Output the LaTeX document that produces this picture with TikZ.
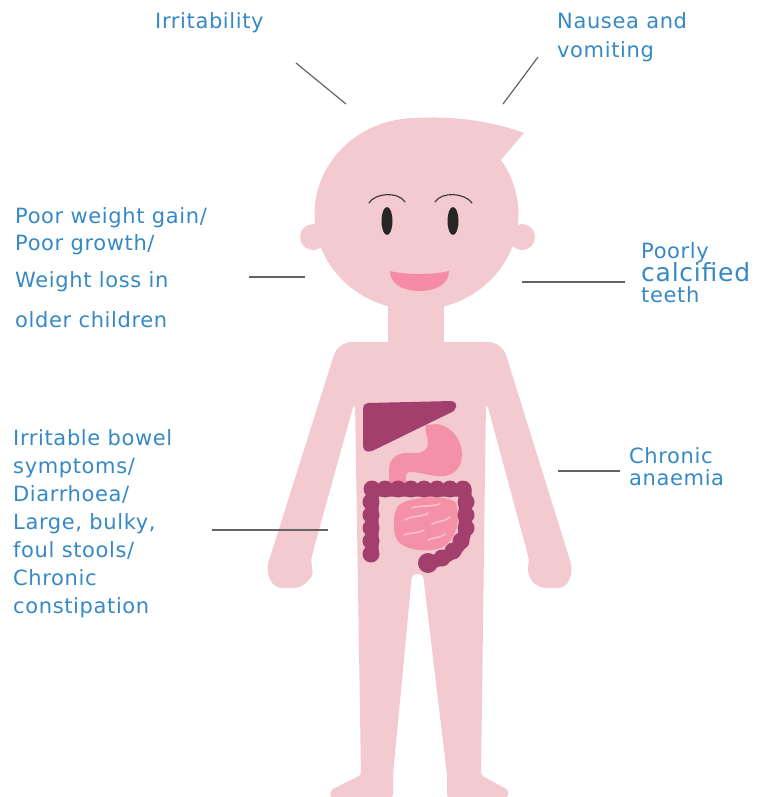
\documentclass[tikz,border=0pt]{standalone}
\usepackage{fontspec}
\setmainfont{DejaVu Sans}[LetterSpace=3]
\usepackage{xcolor}
\usepackage{tikz}
\usetikzlibrary{positioning}

\definecolor{skinpink}{RGB}{243,202,207}
\definecolor{organplum}{RGB}{163,63,108}
\definecolor{gutpink}{RGB}{245,145,166}
\definecolor{gutlight}{RGB}{250,192,204}
\definecolor{mouthpink}{RGB}{245,140,163}
\definecolor{symblue}{RGB}{54,137,196}
\definecolor{leadgray}{RGB}{100,100,100}

\newcommand{\symsize}{\fontsize{21}{28}\selectfont}

\begin{document}
\begin{tikzpicture}[x=1pt, y=-1pt,
    skin/.style  ={fill=skinpink},
    organ/.style ={fill=organplum},
    gut/.style   ={fill=gutpink},
    fold/.style  ={draw=gutlight, line width=1.6pt, line cap=round},
    colon/.style ={draw=organplum, line width=13pt, line cap=round, line join=round},
    brow/.style  ={draw=black!80, line width=1.1pt, line cap=round},
    lead/.style  ={draw=leadgray, line width=1.2pt},
    sym/.style   ={text=symblue, font=\symsize, align=left, inner sep=0pt, anchor=base west}
  ]
  \useasboundingbox (0,0) rectangle (757,797);

  % --- body: torso, arms and legs ---
  \fill[skin, rounded corners=14pt]
    (420,342) -- (502,342)
    [rounded corners=8pt] -- (573,570) -- (566,588) -- (538,588) -- (527,575)
    [rounded corners=3pt] -- (529,560) -- (526,548)
    [rounded corners=10pt] -- (486,400)
    [rounded corners=2pt] -- (481,775) -- (508,790) -- (508,797) -- (447,797) -- (447,775)
    [rounded corners=4pt] -- (423,574) -- (412,574)
    [rounded corners=2pt] -- (393,775) -- (393,797) -- (330,797) -- (331,790) -- (361,775)
    [rounded corners=10pt] -- (355,400) -- (314,548)
    [rounded corners=3pt] -- (311,560) -- (313,575)
    [rounded corners=8pt] -- (302,588) -- (274,588) -- (266,570)
    [rounded corners=14pt] -- (338,342) -- cycle;
  \fill[skin] (388,290) rectangle (444,350); % neck

  % --- head ---
  \fill[skin] (313,237) circle[radius=13];
  \fill[skin] (522,237) circle[radius=13];
  \fill[skin] (416.5,214) ellipse[x radius=102, y radius=96];
  \fill[skin] (405,119) .. controls (450,114) and (495,122) .. (524,133) -- (499,162) -- cycle;

  \draw[brow] (369,203) .. controls (375,193) and (398,191) .. (405,202);
  \draw[brow] (435,202) .. controls (442,191) and (465,193) .. (472,203);
  \fill[black!85] (387,221) ellipse[x radius=5.5, y radius=14];
  \fill[black!85] (453,221) ellipse[x radius=5.5, y radius=14];
  \fill[mouthpink] (390,271) .. controls (405,275) and (434,275) .. (449,271)
    .. controls (449,284) and (436,291) .. (419.5,291)
    .. controls (403,291) and (390,284) .. (390,271) -- cycle;

  % --- organs ---
  % liver
  \fill[organ] (368,403) -- (452,401) .. controls (458,402) and (458,410) .. (450,413)
    .. controls (425,425) and (395,440) .. (372,451)
    .. controls (366,453) and (363,450) .. (363,445) -- (363,410)
    .. controls (363,405) and (365,403) .. (368,403) -- cycle;
  % stomach
  \fill[gut] (426,425) -- (437,424)
    .. controls (462,428) and (470,462) .. (453,473)
    .. controls (440,481) and (420,471) .. (409,472)
    .. controls (405,473) and (406,478) .. (406,484)
    -- (406,490) -- (389,490) -- (389,470)
    .. controls (389,458) and (398,452) .. (410,453)
    .. controls (420,454) and (428,452) .. (428,442)
    .. controls (428,436) and (424,431) .. (426,425) -- cycle;
  % small intestine
  \fill[gut] (398,506) .. controls (408,496) and (448,494) .. (456,503)
    .. controls (461,520) and (456,541) .. (441,548)
    .. controls (425,553) and (404,550) .. (397,540)
    .. controls (392,530) and (393,513) .. (398,506) -- cycle;
  \draw[fold] (412,508) .. controls (420,505) and (430,507) .. (440,504);
  \draw[fold] (405,520) .. controls (412,515) and (420,518) .. (428,513);
  \draw[fold] (432,524) .. controls (440,520) and (445,522) .. (450,517);
  \draw[fold] (404,535) .. controls (410,532) and (418,534) .. (424,530);
  \draw[fold] (428,540) .. controls (435,537) and (440,538) .. (445,534);
  % large intestine
  \draw[colon] (372,552) -- (372,490) -- (465,490) -- (465,528)
    .. controls (465,548) and (445,560) .. (427,563);
  \foreach \x in {372,385,...,467} \fill[organ] (\x,489) circle[radius=8.5];
  \foreach \y in {502,515,...,554} \fill[organ] (371,\y) circle[radius=8.5];
  \foreach \y in {502,515,528} \fill[organ] (466,\y) circle[radius=8.5];
  \foreach \p in {(461,541),(453,551),(442,558)} \fill[organ] \p circle[radius=8.5];
  \fill[organ] (428,563) circle[radius=10];

  % --- leads ---
  \coordinate (irr-a) at (296,63);   \coordinate (irr-b) at (346,104);
  \coordinate (nau-a) at (538,57);   \coordinate (nau-b) at (503,104);
  \coordinate (wgt-a) at (249,277);  \coordinate (wgt-b) at (305,277);
  \coordinate (tth-a) at (522,282);  \coordinate (tth-b) at (625,282);
  \coordinate (bow-a) at (212,530);  \coordinate (bow-b) at (328,530);
  \coordinate (ana-a) at (558,471);  \coordinate (ana-b) at (620,471);
  \draw[lead] (irr-a) -- (irr-b);
  \draw[lead] (nau-a) -- (nau-b);
  \draw[lead] (wgt-a) -- (wgt-b);
  \draw[lead] (tth-a) -- (tth-b);
  \draw[lead] (bow-a) -- (bow-b);
  \draw[lead] (ana-a) -- (ana-b);

  % --- symptoms (placed by the baseline of their last line) ---
  \node[sym] (irr) at (155,29) {Irritability};
  \node[sym] (nau) at (557,58) {Nausea and\\[1pt]vomiting};
  \node[sym] (wgt) at (15,327) {Poor weight gain/\\[-1pt]Poor growth/\\[9pt]Weight loss in\\[12pt]older children};
  \node[sym] (tth) at (641,302) {Poorly\\[-5pt]{\fontsize{25}{28}\selectfont calcified}\\[-7pt]teeth};
  \node[sym] (bow) at (13,613) {Irritable bowel\\symptoms/\\Diarrhoea/\\Large, bulky,\\foul stools/\\Chronic\\constipation};
  \node[sym] (ana) at (629,485) {Chronic\\[-6pt]anaemia};
\end{tikzpicture}
\end{document}
